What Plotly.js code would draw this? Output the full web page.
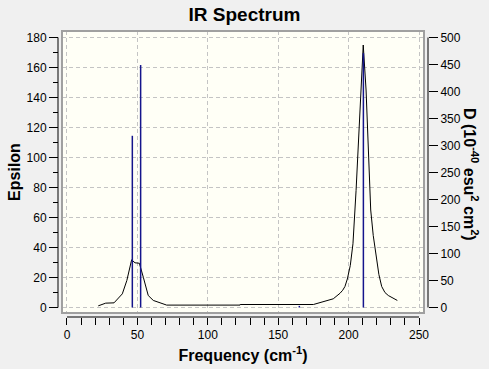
<!DOCTYPE html>
<html>
<head>
<meta charset="utf-8">
<script src="https://cdn.plot.ly/plotly-3.0.1.min.js"></script>
<style>
  html, body { margin: 0; padding: 0; background: #F0F0F0; }
  #chart { width: 489px; height: 369px; }
</style>
</head>
<body>
<div id="chart"></div>
<script>
// Spectrum curve (Epsilon vs frequency, cm^-1)
const curveFreq = [22.2, 27.5, 33.4, 39.3, 42.5, 45.9, 48.3, 51.4, 54.2, 57.7, 61.3, 66.0, 70.8,
  122.9, 123.0, 175.0, 182.0, 189.1, 193.9, 195.8, 197.4, 199.1, 201.2, 203.1, 205.3, 207.6, 209.3, 210.4,
  212.4, 214.0, 215.7, 217.5, 219.5, 221.5, 223.5, 225.8, 228.2, 234.6];
const curveEps = [1.1, 2.9, 3.1, 9.1, 18.0, 31.8, 29.8, 29.5, 20.2, 8.0, 4.7, 3.3, 1.6,
  1.6, 2.0, 2.0, 3.8, 5.8, 9.5, 11.5, 14.0, 19.0, 28.0, 42.5, 78.0, 125.0, 156.0, 175.0,
  145.0, 103.0, 65.0, 48.0, 36.0, 22.0, 14.0, 10.0, 8.0, 4.7];

// Stick spectrum (dipole strength D, 10^-40 esu^2 cm^2)
const stickFreq = [46.4, 52.3, 165.0, 210.5];
const stickD = [318, 449, 3, 471];

// Tick labels
const xTicks = [0, 50, 100, 150, 200, 250];
const yTicks = [0, 20, 40, 60, 80, 100, 120, 140, 160, 180];
const y2Ticks = [0, 50, 100, 150, 200, 250, 300, 350, 400, 450, 500];

// Layout geometry
const W = 489, H = 369;
const mL = 58, mR = 61, mT = 31, mB = 52;
const xDom = [0.0108, 0.9892];
const yDom = [0.014, 1];
const xRange = [-3.55, 253.55];
const yRange = [-3.667, 184.33];
const y2Range = [yRange[0] * 500 / 180, yRange[1] * 500 / 180];

function xFrac(v) { return xDom[0] + (v - xRange[0]) / (xRange[1] - xRange[0]) * (xDom[1] - xDom[0]); }
function yFrac(v) { return yDom[0] + (v - yRange[0]) / (yRange[1] - yRange[0]) * (yDom[1] - yDom[0]); }

// Build stick segments from the arrays
const sx = [], sy = [];
stickFreq.forEach((f, i) => { sx.push(f, f, null); sy.push(0, stickD[i], null); });

const font = 'Liberation Sans, Arial, sans-serif';

const traces = [
  {
    x: curveFreq, y: curveEps, type: 'scatter', mode: 'lines',
    line: { color: '#000000', width: 1 }, xaxis: 'x', yaxis: 'y',
    hoverinfo: 'skip', showlegend: false
  },
  {
    x: sx, y: sy, type: 'scatter', mode: 'lines',
    line: { color: '#14148c', width: 1.5 }, xaxis: 'x', yaxis: 'y2',
    hoverinfo: 'skip', showlegend: false, connectgaps: false
  }
];

const layout = {
  width: W, height: H,
  paper_bgcolor: '#F0F0F0',
  plot_bgcolor: '#FFFFF6',
  margin: { l: mL, r: mR, t: mT, b: mB, pad: 0 },
  font: { family: font, size: 12, color: '#000' },
  title: {
    text: '<b>IR Spectrum</b>', font: { family: font, size: 19, color: '#000' },
    x: 0.5, xref: 'container', xanchor: 'center',
    y: 1 - 14 / H, yref: 'container', yanchor: 'middle'
  },
  xaxis: {
    domain: xDom, range: xRange, anchor: 'free', position: 0,
    tickvals: xTicks, ticktext: xTicks.map(String),
    ticks: 'outside', ticklen: 7, tickwidth: 1, tickcolor: '#000',
    minor: { dtick: 10, tick0: 0, ticks: 'outside', ticklen: 7, tickcolor: '#000', showgrid: false },
    showline: false, zeroline: false,
    showgrid: true, gridcolor: '#C4C4C4', griddash: '4px,3px', gridwidth: 1,
    tickfont: { family: font, size: 12, color: '#000' },
    title: { text: '<b>Frequency (cm<sup>-1</sup>)</b>', font: { family: font, size: 16, color: '#000' }, standoff: 8 },
    fixedrange: true
  },
  yaxis: {
    domain: yDom, range: yRange, anchor: 'free', position: 0,
    tickvals: yTicks, ticktext: yTicks.map(String),
    ticks: 'outside', ticklen: 9, tickwidth: 1, tickcolor: '#000',
    minor: { dtick: 10, tick0: 0, ticks: 'outside', ticklen: 5, tickcolor: '#000', showgrid: false },
    showline: false, zeroline: false,
    showgrid: true, gridcolor: '#C4C4C4', griddash: '4px,3px', gridwidth: 1,
    tickfont: { family: font, size: 12, color: '#000' },
    title: { text: '<b>Epsilon</b>', font: { family: font, size: 16, color: '#000' }, standoff: 0 },
    fixedrange: true
  },
  yaxis2: {
    domain: yDom, range: y2Range, overlaying: 'y', side: 'right', anchor: 'free', position: 1,
    tickvals: y2Ticks, ticktext: y2Ticks.map(String),
    ticks: 'outside', ticklen: 9, tickwidth: 1, tickcolor: '#000',
    showline: false, zeroline: false, showgrid: false,
    tickfont: { family: font, size: 12, color: '#000' },
    fixedrange: true
  },
  shapes: [
    // plot box border
    { type: 'rect', xref: 'paper', yref: 'paper', x0: xDom[0], x1: xDom[1], y0: yDom[0], y1: yDom[1],
      line: { color: '#A0A0A0', width: 2 }, fillcolor: 'rgba(0,0,0,0)', layer: 'above' },
    // detached left axis line
    { type: 'line', xref: 'paper', yref: 'paper', x0: 0, x1: 0, y0: yFrac(0), y1: yFrac(180),
      line: { color: '#000', width: 1 } },
    // detached right axis line
    { type: 'line', xref: 'paper', yref: 'paper', x0: 1, x1: 1, y0: yFrac(0), y1: yFrac(180),
      line: { color: '#000', width: 1 } },
    // detached bottom axis line
    { type: 'line', xref: 'paper', yref: 'paper', x0: xFrac(0), x1: xFrac(250), y0: 0, y1: 0,
      line: { color: '#000', width: 1 } }
  ],
  annotations: [
    { text: '<b>D (10<sup>-40</sup> esu<sup>2</sup> cm<sup>2</sup>)</b>', textangle: 90,
      xref: 'paper', yref: 'paper', x: 1 + (471 - 428) / 370, y: 1 - (174 - 31) / 286,
      xanchor: 'center', yanchor: 'middle', showarrow: false,
      font: { family: font, size: 16, color: '#000' } }
  ]
};

Plotly.newPlot('chart', traces, layout, { displayModeBar: false, staticPlot: true });
</script>
</body>
</html>
